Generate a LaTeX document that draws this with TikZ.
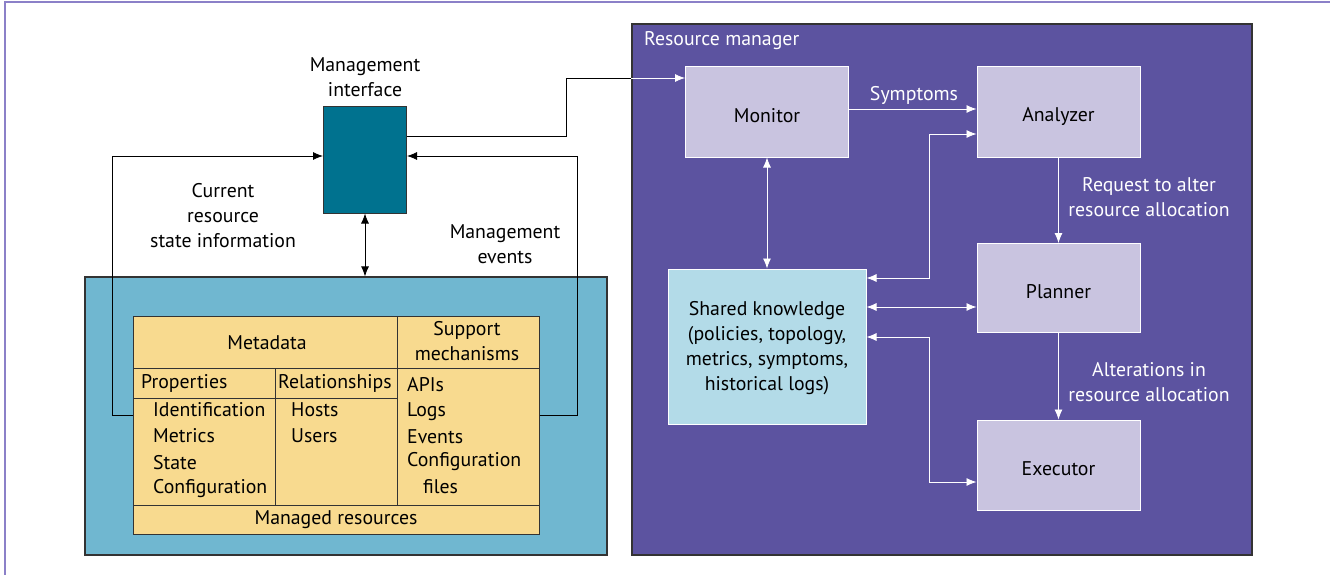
\documentclass[tikz,border=0pt]{standalone}
\usepackage{fontspec}
\setmainfont{PT Sans}
\usepackage{xcolor}
\usetikzlibrary{arrows.meta, positioning, calc}

\definecolor{rmpurple}{HTML}{5C53A0}
\definecolor{lavender}{HTML}{C9C4E0}
\definecolor{skblue}{HTML}{B3DBE8}
\definecolor{hostblue}{HTML}{70B7D0}
\definecolor{mgiteal}{HTML}{00728F}
\definecolor{tblyellow}{HTML}{F8DA8F}
\definecolor{framepurple}{HTML}{8B80C8}
\definecolor{edgegray}{HTML}{333333}

\begin{document}
\begin{tikzpicture}[x=1pt, y=-1pt,
            every node/.style={font=\fontsize{19.8}{25}\selectfont},
            box/.style={draw=white, line width=1pt, fill=lavender, minimum width=163pt, minimum height=90pt, inner sep=0pt},
            link/.style={-{Latex[length=10pt,width=8pt]}, line width=0.8pt, draw=black},
            dlink/.style={{Latex[length=10pt,width=8pt]}-{Latex[length=10pt,width=8pt]}, line width=0.8pt, draw=black},
            wlink/.style={link, draw=white},
            wdlink/.style={dlink, draw=white},
            lbl/.style={align=center, inner sep=0pt},
            wlbl/.style={lbl, text=white},
            item/.style={anchor=west, inner sep=0pt}
        ]
        \useasboundingbox (0,0) rectangle (1330,575);

        % Frame
        \draw[framepurple, line width=2pt] (5,575) -- (5,2) -- (1330,2);

        % Containers
        \node[draw=edgegray, line width=2pt, fill=rmpurple, minimum width=620pt, minimum height=531pt] (rm) at (942,289.5) {};
        \node[wlbl, anchor=west] (rmlabel) at (644,41) {Resource manager};
        \node[draw=edgegray, line width=1.2pt, fill=hostblue, minimum width=522pt, minimum height=278pt] (host) at (346,416) {};

        % Management interface
        \node[draw=edgegray, line width=1pt, fill=mgiteal, minimum width=83pt, minimum height=106pt] (mgi) at (365,160) {};
        \node[lbl] (mgilabel) at (365,77) {Management\\interface};

        % Resource manager nodes
        \node[box, label={[yshift=-4pt]center:Monitor}] (mon) at (767,112) {};
        \node[box, label={[yshift=-4pt]center:Analyzer}] (ana) at (1058.5,112) {};
        \node[box, minimum height=89pt, label={[yshift=-4pt]center:Planner}] (pla) at (1058.5,288) {};
        \node[box, label={[yshift=-4pt]center:Executor}] (exe) at (1058.5,465) {};
        \node[box, fill=skblue, minimum width=198pt, minimum height=155pt, align=center, text depth=2pt] (sk) at (767,346.5)
            {Shared knowledge\\(policies, topology,\\metrics, symptoms,\\historical logs)};

        % Managed resources table
        \node[draw=edgegray, line width=1pt, fill=tblyellow, minimum width=405.4pt, minimum height=218pt] (tbl) at (336.3,425) {};
        \draw[edgegray, line width=1pt] (133.6,368) -- (539,368);
        \draw[edgegray, line width=1pt] (133.6,398) -- (397,398);
        \draw[edgegray, line width=1pt] (133.6,505) -- (539,505);
        \draw[edgegray, line width=1pt] (275,368) -- (275,505);
        \draw[edgegray, line width=1pt] (397,316) -- (397,505);

        \node[lbl] (meta) at (267,343) {Metadata};
        \node[lbl] (supp) at (467,341) {Support\\mechanisms};
        \node[lbl] (mres) at (336,520) {Managed resources};
        \node[item] (prop) at (141,383) {Properties};
        \node[item] (rel) at (278,383) {Relationships};
        \node[item] (p1) at (153,410) {Identification};
        \node[item] (p2) at (153,436) {Metrics};
        \node[item] (p3) at (153,463) {State};
        \node[item] (p4) at (153,489) {Configuration};
        \node[item] (r1) at (291,410) {Hosts};
        \node[item] (r2) at (291,436) {Users};
        \node[item] (s1) at (407,385) {APIs};
        \node[item] (s2) at (407,412) {Logs};
        \node[item] (s3) at (407,437) {Events};
        \node[item] (s4) at (407,462) {Configuration};
        \node[item] (s5) at (423,487) {files};

        % Labels
        \node[lbl] (cur) at (223,216) {Current\\resource\\state information};
        \node[lbl] (mev) at (505,244) {Management\\events};
        \node[wlbl] (sym) at (914,95) {Symptoms};
        \node[wlbl] (req) at (1149,197) {Request to alter\\resource allocation};
        \node[wlbl] (alt) at (1149,382) {Alterations in\\resource allocation};

        % Edges
        \draw[link] ([yshift=-100pt]tbl.north west) -- ++(-20.6,0) |- ([yshift=4pt]mgi.west);
        \draw[link] ([yshift=-100pt]tbl.north east) -- ++(38,0) |- ([yshift=4pt]mgi.east);
        \draw[dlink] (mgi.south) -- (mgi.south |- host.north);

        \coordinate (monin) at ([yshift=34pt]mon.west);
        \draw[line width=0.8pt] ([yshift=24pt]mgi.east) -- ++(159,0) |- (rm.west |- monin);
        \draw[wlink] (rm.west |- monin) -- (monin);

        \draw[wlink] ([yshift=3pt]mon.east) -- ([yshift=3pt]ana.west);
        \draw[wdlink] (mon.south) -- (sk.north);
        \draw[wlink] (ana.south) -- (pla.north);
        \draw[wlink] (pla.south) -- (exe.north);

        \coordinate (plain) at ([yshift=-19pt]pla.west);
        \draw[wdlink] (sk.east |- plain) -- (plain);
        \draw[wdlink] ([yshift=68.5pt]sk.east) -- ++(63,0) |- ([yshift=-22pt]ana.west);
        \draw[wdlink] ([yshift=9.5pt]sk.east) -- ++(63,0) |- ([yshift=-17pt]exe.west);

    \end{tikzpicture}
\end{document}
